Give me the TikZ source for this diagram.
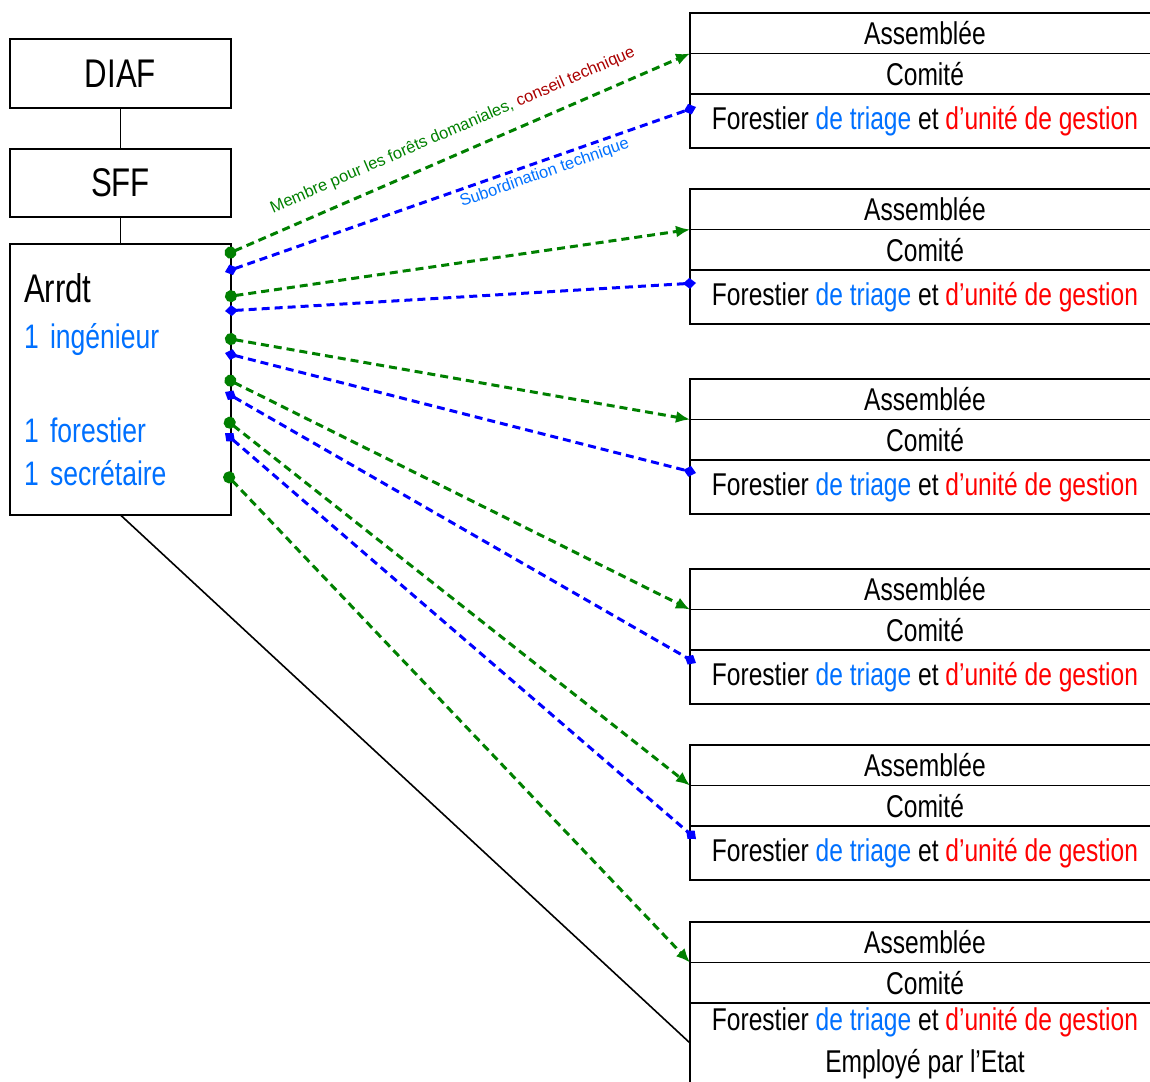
\documentclass[tikz,border=0pt]{standalone}
\usepackage{fontspec}
\setmainfont[FakeStretch=0.78]{Liberation Sans}
\newfontfamily\lblfont{Liberation Sans}
\usetikzlibrary{arrows.meta,positioning}
\definecolor{tblue}{RGB}{0,112,255}
\definecolor{tred}{RGB}{255,0,0}
\definecolor{lgreen}{RGB}{0,128,0}
\definecolor{lblue}{RGB}{0,0,255}
\definecolor{lred}{RGB}{170,0,0}
\newcommand{\tb}[1]{\textcolor{tblue}{#1}}
\newcommand{\tr}[1]{\textcolor{tred}{#1}}
\newcommand{\forline}{Forestier \tb{de triage} et \tr{d’unité de gestion}}

\begin{document}
\begin{tikzpicture}[x=1pt, y=-1pt, every node/.style={font=\fontsize{31.5}{42}\selectfont}, box/.style={draw, line width=1.3pt, inner sep=0pt, outer sep=0pt, minimum width=221pt}, row/.style={draw, line width=1.3pt, inner sep=0pt, outer sep=0pt, minimum width=470pt, minimum height=40.5pt}, frow/.style={row, minimum height=54pt}, lbl/.style={sloped, font=\lblfont\fontsize{16.5}{18}\selectfont}, memb/.style={draw=lgreen, line width=3pt, dash pattern=on 8pt off 5pt, {Circle[length=12pt]}-{Latex[length=14pt,width=12pt]}}, subo/.style={draw=lblue, line width=3pt, dash pattern=on 8pt off 5pt, {Diamond[length=13pt,width=11pt]}-{Diamond[length=13pt,width=11pt]}}]
\useasboundingbox (0,0) rectangle (1150,1081);
\node[box, anchor=north west, minimum height=69pt, font=\fontsize{40}{46}\selectfont] (diaf) at (10,39) {DIAF};
\node[box, anchor=north west, minimum height=68pt, font=\fontsize{40}{46}\selectfont] (sff) at (10,149) {SFF};
\node[box, anchor=north west, minimum height=271pt, text width=193pt, inner xsep=14pt, align=left, text=tblue, font=\fontsize{34}{46}\selectfont] (arrdt) at (10,244) {\textcolor{black}{\fontsize{40}{46}\selectfont Arrdt}\\1 ingénieur\\[48pt]1 forestier\\[-3pt]1 secrétaire};
\draw[line width=1.3pt] (diaf) -- (sff);
\draw[line width=1.3pt] (sff) -- (arrdt);

\node[row, anchor=north west] (a1) at (690,13) {Assemblée};
\node[row, below=0pt of a1] (c1) {Comité};
\node[frow, below=0pt of c1] (f1) {\forline};
\node[row, anchor=north west] (a2) at (690,189) {Assemblée};
\node[row, below=0pt of a2] (c2) {Comité};
\node[frow, below=0pt of c2] (f2) {\forline};
\node[row, anchor=north west] (a3) at (690,379) {Assemblée};
\node[row, below=0pt of a3] (c3) {Comité};
\node[frow, below=0pt of c3] (f3) {\forline};
\node[row, anchor=north west] (a4) at (690,569) {Assemblée};
\node[row, below=0pt of a4] (c4) {Comité};
\node[frow, below=0pt of c4] (f4) {\forline};
\node[row, anchor=north west] (a5) at (690,745) {Assemblée};
\node[row, below=0pt of a5] (c5) {Comité};
\node[frow, below=0pt of c5] (f5) {\forline};
\node[row, anchor=north west] (a6) at (690,922) {Assemblée};
\node[row, below=0pt of a6] (c6) {Comité};
\node[row, below=0pt of c6, minimum height=80pt, align=center] (f6) {\forline\\Employé par l’Etat};

\coordinate (g1) at ([xshift=-6pt, yshift=-11pt]arrdt.north east);
\coordinate (g2) at ([xshift=-6pt, yshift=-53pt]arrdt.north east);
\coordinate (g3) at ([xshift=-6pt, yshift=-94pt]arrdt.north east);
\coordinate (g4) at ([xshift=-6pt, yshift=-134pt]arrdt.north east);
\coordinate (g5) at ([xshift=-6pt, yshift=-175pt]arrdt.north east);
\coordinate (g6) at ([xshift=-6pt, yshift=-229pt]arrdt.north east);
\coordinate (s1) at ([xshift=-6pt, yshift=-28pt]arrdt.north east);
\coordinate (s2) at ([xshift=-6pt, yshift=-67pt]arrdt.north east);
\coordinate (s3) at ([xshift=-6pt, yshift=-109pt]arrdt.north east);
\coordinate (s4) at ([xshift=-6pt, yshift=-148pt]arrdt.north east);
\coordinate (s5) at ([xshift=-6pt, yshift=-189pt]arrdt.north east);

\draw[memb] (g1) -- node[lbl, pos=0.51, above=11pt, text=lgreen] {Membre pour les forêts domaniales, \textcolor{lred}{conseil technique}} (a1.south west);
\draw[subo] (s1) -- node[lbl, pos=0.67, below=0pt, text=tblue] {Subordination technique} ([xshift=6pt, yshift=-13pt]c1.south west);
\draw[memb] (g2) -- (a2.south west);
\draw[subo] (s2) -- ([xshift=6pt, yshift=-13pt]c2.south west);
\draw[memb] (g3) -- (a3.south west);
\draw[subo] (s3) -- ([xshift=6pt, yshift=-13pt]c3.south west);
\draw[memb] (g4) -- (a4.south west);
\draw[subo] (s4) -- ([xshift=6pt, yshift=-13pt]c4.south west);
\draw[memb] (g5) -- (a5.south west);
\draw[subo] (s5) -- ([xshift=6pt, yshift=-13pt]c5.south west);
\draw[memb] (g6) -- (a6.south west);
\draw[line width=1.6pt] (arrdt.south) -- (f6.west);
\end{tikzpicture}
\end{document}
